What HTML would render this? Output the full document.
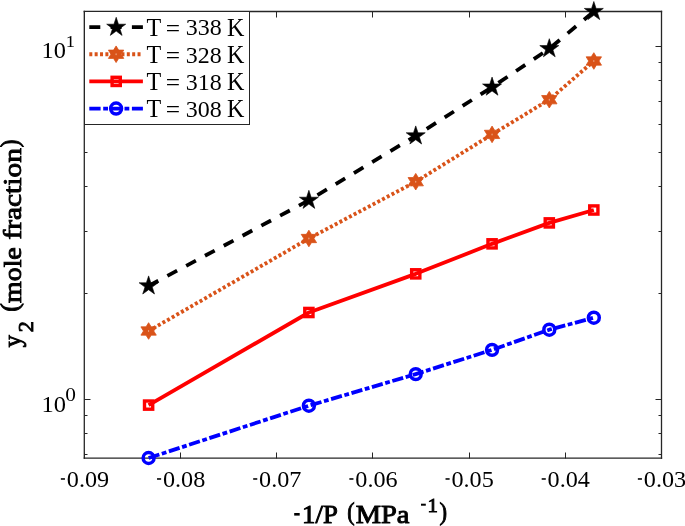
<!DOCTYPE html>
<html><head><meta charset="utf-8"><style>html,body{margin:0;padding:0;background:#fff;overflow:hidden}svg{display:block;will-change:transform}</style></head>
<body><svg width="685" height="526" viewBox="0 0 685 526"><rect x="0" y="0" width="685" height="526" fill="#fff"/>
<line x1="84.3" y1="10.85" x2="84.3" y2="458.85" stroke="#262626" stroke-width="1.3"/>
<line x1="661.5" y1="10.85" x2="661.5" y2="458.85" stroke="#262626" stroke-width="1.3"/>
<line x1="83.65" y1="11.5" x2="662.15" y2="11.5" stroke="#262626" stroke-width="1.3"/>
<line x1="83.65" y1="458.2" x2="662.15" y2="458.2" stroke="#262626" stroke-width="1.25"/>
<line x1="84.5" y1="458.5" x2="84.5" y2="452.5" stroke="#262626" stroke-width="1"/>
<line x1="84.5" y1="11.5" x2="84.5" y2="17.5" stroke="#262626" stroke-width="1"/>
<line x1="180.5" y1="458.5" x2="180.5" y2="452.5" stroke="#262626" stroke-width="1"/>
<line x1="180.5" y1="11.5" x2="180.5" y2="17.5" stroke="#262626" stroke-width="1"/>
<line x1="276.5" y1="458.5" x2="276.5" y2="452.5" stroke="#262626" stroke-width="1"/>
<line x1="276.5" y1="11.5" x2="276.5" y2="17.5" stroke="#262626" stroke-width="1"/>
<line x1="372.5" y1="458.5" x2="372.5" y2="452.5" stroke="#262626" stroke-width="1"/>
<line x1="372.5" y1="11.5" x2="372.5" y2="17.5" stroke="#262626" stroke-width="1"/>
<line x1="469.5" y1="458.5" x2="469.5" y2="452.5" stroke="#262626" stroke-width="1"/>
<line x1="469.5" y1="11.5" x2="469.5" y2="17.5" stroke="#262626" stroke-width="1"/>
<line x1="565.5" y1="458.5" x2="565.5" y2="452.5" stroke="#262626" stroke-width="1"/>
<line x1="565.5" y1="11.5" x2="565.5" y2="17.5" stroke="#262626" stroke-width="1"/>
<line x1="661.5" y1="458.5" x2="661.5" y2="452.5" stroke="#262626" stroke-width="1"/>
<line x1="661.5" y1="11.5" x2="661.5" y2="17.5" stroke="#262626" stroke-width="1"/>
<line x1="84.5" y1="399.5" x2="90.5" y2="399.5" stroke="#262626" stroke-width="1"/>
<line x1="661.5" y1="399.5" x2="655.5" y2="399.5" stroke="#262626" stroke-width="1"/>
<line x1="84.5" y1="46.5" x2="90.5" y2="46.5" stroke="#262626" stroke-width="1"/>
<line x1="661.5" y1="46.5" x2="655.5" y2="46.5" stroke="#262626" stroke-width="1"/>
<line x1="84.5" y1="454.5" x2="87.5" y2="454.5" stroke="#262626" stroke-width="1"/>
<line x1="661.5" y1="454.5" x2="658.5" y2="454.5" stroke="#262626" stroke-width="1"/>
<line x1="84.5" y1="433.5" x2="87.5" y2="433.5" stroke="#262626" stroke-width="1"/>
<line x1="661.5" y1="433.5" x2="658.5" y2="433.5" stroke="#262626" stroke-width="1"/>
<line x1="84.5" y1="415.5" x2="87.5" y2="415.5" stroke="#262626" stroke-width="1"/>
<line x1="661.5" y1="415.5" x2="658.5" y2="415.5" stroke="#262626" stroke-width="1"/>
<line x1="84.5" y1="293.5" x2="87.5" y2="293.5" stroke="#262626" stroke-width="1"/>
<line x1="661.5" y1="293.5" x2="658.5" y2="293.5" stroke="#262626" stroke-width="1"/>
<line x1="84.5" y1="231.5" x2="87.5" y2="231.5" stroke="#262626" stroke-width="1"/>
<line x1="661.5" y1="231.5" x2="658.5" y2="231.5" stroke="#262626" stroke-width="1"/>
<line x1="84.5" y1="186.5" x2="87.5" y2="186.5" stroke="#262626" stroke-width="1"/>
<line x1="661.5" y1="186.5" x2="658.5" y2="186.5" stroke="#262626" stroke-width="1"/>
<line x1="84.5" y1="152.5" x2="87.5" y2="152.5" stroke="#262626" stroke-width="1"/>
<line x1="661.5" y1="152.5" x2="658.5" y2="152.5" stroke="#262626" stroke-width="1"/>
<line x1="84.5" y1="124.5" x2="87.5" y2="124.5" stroke="#262626" stroke-width="1"/>
<line x1="661.5" y1="124.5" x2="658.5" y2="124.5" stroke="#262626" stroke-width="1"/>
<line x1="84.5" y1="101.5" x2="87.5" y2="101.5" stroke="#262626" stroke-width="1"/>
<line x1="661.5" y1="101.5" x2="658.5" y2="101.5" stroke="#262626" stroke-width="1"/>
<line x1="84.5" y1="80.5" x2="87.5" y2="80.5" stroke="#262626" stroke-width="1"/>
<line x1="661.5" y1="80.5" x2="658.5" y2="80.5" stroke="#262626" stroke-width="1"/>
<line x1="84.5" y1="62.5" x2="87.5" y2="62.5" stroke="#262626" stroke-width="1"/>
<line x1="661.5" y1="62.5" x2="658.5" y2="62.5" stroke="#262626" stroke-width="1"/>
<polyline points="148.61,458.00 308.89,405.70 415.74,374.10 492.06,349.85 549.31,329.70 593.83,317.70" fill="none" stroke="#0000FF" stroke-width="3.8" stroke-linejoin="round" stroke-dasharray="11.3 2.6 4.8 2.6" stroke-dashoffset="0"/>
<polyline points="148.61,405.10 308.89,312.50 415.74,273.85 492.06,243.85 549.31,222.90 593.83,210.00" fill="none" stroke="#FF0000" stroke-width="3.8" stroke-linejoin="round"/>
<polyline points="148.61,331.00 308.89,238.50 415.74,181.70 492.06,134.40 549.31,99.70 593.83,61.00" fill="none" stroke="#D95319" stroke-width="3.8" stroke-linejoin="round" stroke-dasharray="3 2.36" stroke-dashoffset="0"/>
<polyline points="148.61,285.90 308.89,200.30 415.74,135.90 492.06,87.10 549.31,48.70 593.83,11.50" fill="none" stroke="#000000" stroke-width="3.8" stroke-linejoin="round" stroke-dasharray="11 10.3" stroke-dashoffset="0"/>
<circle cx="148.61" cy="458.00" r="5.45" fill="none" stroke="#0000FF" stroke-width="3.5"/>
<circle cx="308.89" cy="405.70" r="5.45" fill="none" stroke="#0000FF" stroke-width="3.5"/>
<circle cx="415.74" cy="374.10" r="5.45" fill="none" stroke="#0000FF" stroke-width="3.5"/>
<circle cx="492.06" cy="349.85" r="5.45" fill="none" stroke="#0000FF" stroke-width="3.5"/>
<circle cx="549.31" cy="329.70" r="5.45" fill="none" stroke="#0000FF" stroke-width="3.5"/>
<circle cx="593.83" cy="317.70" r="5.45" fill="none" stroke="#0000FF" stroke-width="3.5"/>
<rect x="144.51" y="401.00" width="8.2" height="8.2" fill="none" stroke="#FF0000" stroke-width="3.4"/>
<rect x="304.79" y="308.40" width="8.2" height="8.2" fill="none" stroke="#FF0000" stroke-width="3.4"/>
<rect x="411.64" y="269.75" width="8.2" height="8.2" fill="none" stroke="#FF0000" stroke-width="3.4"/>
<rect x="487.96" y="239.75" width="8.2" height="8.2" fill="none" stroke="#FF0000" stroke-width="3.4"/>
<rect x="545.21" y="218.80" width="8.2" height="8.2" fill="none" stroke="#FF0000" stroke-width="3.4"/>
<rect x="589.73" y="205.90" width="8.2" height="8.2" fill="none" stroke="#FF0000" stroke-width="3.4"/>
<polygon points="148.61,322.70 151.17,326.85 156.30,326.85 153.74,331.00 156.30,335.15 151.17,335.15 148.61,339.30 146.05,335.15 140.92,335.15 143.48,331.00 140.92,326.85 146.05,326.85" fill="#D95319" stroke="#D95319" stroke-width="0.8"/><ellipse cx="148.61" cy="331.00" rx="0.6" ry="1.0" fill="#f3c2a8" opacity="0.8"/>
<polygon points="308.89,230.20 311.45,234.35 316.58,234.35 314.02,238.50 316.58,242.65 311.45,242.65 308.89,246.80 306.33,242.65 301.20,242.65 303.76,238.50 301.20,234.35 306.33,234.35" fill="#D95319" stroke="#D95319" stroke-width="0.8"/><ellipse cx="308.89" cy="238.50" rx="0.6" ry="1.0" fill="#f3c2a8" opacity="0.8"/>
<polygon points="415.74,173.40 418.30,177.55 423.43,177.55 420.87,181.70 423.43,185.85 418.30,185.85 415.74,190.00 413.18,185.85 408.05,185.85 410.61,181.70 408.05,177.55 413.18,177.55" fill="#D95319" stroke="#D95319" stroke-width="0.8"/><ellipse cx="415.74" cy="181.70" rx="0.6" ry="1.0" fill="#f3c2a8" opacity="0.8"/>
<polygon points="492.06,126.10 494.63,130.25 499.75,130.25 497.19,134.40 499.75,138.55 494.63,138.55 492.06,142.70 489.50,138.55 484.37,138.55 486.94,134.40 484.37,130.25 489.50,130.25" fill="#D95319" stroke="#D95319" stroke-width="0.8"/><ellipse cx="492.06" cy="134.40" rx="0.6" ry="1.0" fill="#f3c2a8" opacity="0.8"/>
<polygon points="549.31,91.40 551.87,95.55 557.00,95.55 554.43,99.70 557.00,103.85 551.87,103.85 549.31,108.00 546.74,103.85 541.61,103.85 544.18,99.70 541.61,95.55 546.74,95.55" fill="#D95319" stroke="#D95319" stroke-width="0.8"/><ellipse cx="549.31" cy="99.70" rx="0.6" ry="1.0" fill="#f3c2a8" opacity="0.8"/>
<polygon points="593.83,52.70 596.39,56.85 601.52,56.85 598.95,61.00 601.52,65.15 596.39,65.15 593.83,69.30 591.26,65.15 586.14,65.15 588.70,61.00 586.14,56.85 591.26,56.85" fill="#D95319" stroke="#D95319" stroke-width="0.8"/><ellipse cx="593.83" cy="61.00" rx="0.6" ry="1.0" fill="#f3c2a8" opacity="0.8"/>
<polygon points="148.61,275.90 150.86,282.81 158.12,282.81 152.24,287.08 154.49,293.99 148.61,289.72 142.73,293.99 144.98,287.08 139.10,282.81 146.37,282.81" fill="#000000" stroke="#000000" stroke-width="0.6" stroke-linejoin="miter"/>
<polygon points="308.89,190.30 311.13,197.21 318.40,197.21 312.52,201.48 314.77,208.39 308.89,204.12 303.01,208.39 305.26,201.48 299.38,197.21 306.64,197.21" fill="#000000" stroke="#000000" stroke-width="0.6" stroke-linejoin="miter"/>
<polygon points="415.74,125.90 417.99,132.81 425.25,132.81 419.37,137.08 421.62,143.99 415.74,139.72 409.86,143.99 412.11,137.08 406.23,132.81 413.50,132.81" fill="#000000" stroke="#000000" stroke-width="0.6" stroke-linejoin="miter"/>
<polygon points="492.06,77.10 494.31,84.01 501.57,84.01 495.70,88.28 497.94,95.19 492.06,90.92 486.19,95.19 488.43,88.28 482.55,84.01 489.82,84.01" fill="#000000" stroke="#000000" stroke-width="0.6" stroke-linejoin="miter"/>
<polygon points="549.31,38.70 551.55,45.61 558.82,45.61 552.94,49.88 555.18,56.79 549.31,52.52 543.43,56.79 545.67,49.88 539.79,45.61 547.06,45.61" fill="#000000" stroke="#000000" stroke-width="0.6" stroke-linejoin="miter"/>
<polygon points="593.83,1.50 596.07,8.41 603.34,8.41 597.46,12.68 599.71,19.59 593.83,15.32 587.95,19.59 590.19,12.68 584.32,8.41 591.58,8.41" fill="#000000" stroke="#000000" stroke-width="0.6" stroke-linejoin="miter"/>
<rect x="60.85" y="478.2" width="4.1" height="1.55" fill="#000"/>
<text x="66.80" y="487.25" font-family="Liberation Serif, serif" font-size="23" textLength="42.32" lengthAdjust="spacingAndGlyphs" fill="#000">0.09</text>
<rect x="157.02" y="478.2" width="4.1" height="1.55" fill="#000"/>
<text x="162.97" y="487.25" font-family="Liberation Serif, serif" font-size="23" textLength="42.32" lengthAdjust="spacingAndGlyphs" fill="#000">0.08</text>
<rect x="253.18" y="478.2" width="4.1" height="1.55" fill="#000"/>
<text x="259.13" y="487.25" font-family="Liberation Serif, serif" font-size="23" textLength="42.32" lengthAdjust="spacingAndGlyphs" fill="#000">0.07</text>
<rect x="349.35" y="478.2" width="4.1" height="1.55" fill="#000"/>
<text x="355.30" y="487.25" font-family="Liberation Serif, serif" font-size="23" textLength="42.32" lengthAdjust="spacingAndGlyphs" fill="#000">0.06</text>
<rect x="445.52" y="478.2" width="4.1" height="1.55" fill="#000"/>
<text x="451.47" y="487.25" font-family="Liberation Serif, serif" font-size="23" textLength="42.32" lengthAdjust="spacingAndGlyphs" fill="#000">0.05</text>
<rect x="541.68" y="478.2" width="4.1" height="1.55" fill="#000"/>
<text x="547.63" y="487.25" font-family="Liberation Serif, serif" font-size="23" textLength="42.32" lengthAdjust="spacingAndGlyphs" fill="#000">0.04</text>
<rect x="637.85" y="478.2" width="4.1" height="1.55" fill="#000"/>
<text x="643.80" y="487.25" font-family="Liberation Serif, serif" font-size="23" textLength="42.32" lengthAdjust="spacingAndGlyphs" fill="#000">0.03</text>
<text transform="translate(41.48,58.05) scale(1.0600,0.9871)" font-family="Liberation Serif, serif" font-size="23" fill="#000">10</text>
<text transform="translate(65.78,47.20) scale(1.0833,1.0133)" font-family="Liberation Serif, serif" font-size="17" fill="#000">1</text>
<text transform="translate(41.47,411.85) scale(1.0650,0.9806)" font-family="Liberation Serif, serif" font-size="23" fill="#000">10</text>
<text transform="translate(65.26,401.23) scale(1.2571,1.0783)" font-family="Liberation Serif, serif" font-size="17" fill="#000">0</text>
<rect x="294.2" y="513.0" width="5.5" height="2.6" fill="#000"/>
<text transform="translate(302.09,523.30) scale(1.0918,1.0000)" font-family="Liberation Serif, serif" font-size="24.5" stroke="#000" stroke-width="0.9" fill="#000">1/P</text>
<text transform="translate(347.14,520.30) scale(0.8828,1.0000)" font-family="Liberation Serif, serif" font-size="25" stroke="#000" stroke-width="0.9" fill="#000">(</text>
<text transform="translate(355.71,523.30) scale(1.1611,1.0000)" font-family="Liberation Serif, serif" font-size="24.5" stroke="#000" stroke-width="0.9" fill="#000">MPa</text>
<rect x="421" y="503.7" width="4.8" height="2.0" fill="#000"/>
<text transform="translate(427.40,511.71) scale(1.0375,0.9714)" font-family="Liberation Serif, serif" font-size="20" stroke="#000" stroke-width="0.9" fill="#000">1</text>
<text transform="translate(439.57,520.30) scale(0.9067,1.0000)" font-family="Liberation Serif, serif" font-size="25" stroke="#000" stroke-width="0.9" fill="#000">)</text>
<g transform="translate(21.1,347.6) rotate(-90)"><text transform="translate(0.24,0.00) scale(0.9692,1.0000)" font-family="Liberation Serif, serif" font-size="25" stroke="#000" stroke-width="0.9" fill="#000">y</text><text transform="translate(15.45,11.90) scale(1.1086,1.0000)" font-family="Liberation Serif, serif" font-size="20" stroke="#000" stroke-width="0.9" fill="#000">2</text><text transform="translate(35.93,-3.60) scale(1.0207,1.0000)" font-family="Liberation Serif, serif" font-size="25" stroke="#000" stroke-width="0.9" fill="#000">(</text><text transform="translate(44.70,0.00) scale(1.1131,1.0000)" font-family="Liberation Serif, serif" font-size="25" stroke="#000" stroke-width="0.9" fill="#000">mole</text><text transform="translate(108.01,0.00) scale(1.1768,1.0000)" font-family="Liberation Serif, serif" font-size="25" stroke="#000" stroke-width="0.9" fill="#000">fraction</text><text transform="translate(200.37,-3.60) scale(0.9200,1.0000)" font-family="Liberation Serif, serif" font-size="25" stroke="#000" stroke-width="0.9" fill="#000">)</text></g>
<rect x="84.5" y="11.5" width="165" height="113" fill="#fff" stroke="#262626" stroke-width="1"/>
<polyline points="89.30,27.10 142.90,27.10" fill="none" stroke="#000000" stroke-width="3.8" stroke-linejoin="round" stroke-dasharray="11 10.3" stroke-dashoffset="0"/>
<polygon points="116.20,17.30 118.45,24.21 125.71,24.21 119.83,28.48 122.08,35.39 116.20,31.12 110.32,35.39 112.57,28.48 106.69,24.21 113.95,24.21" fill="#000000" stroke="#000000" stroke-width="0.6" stroke-linejoin="miter"/>
<text transform="translate(146.48,35.85) scale(1.0491,1.0633)" font-family="Liberation Serif, serif" font-size="23" fill="#000">T</text>
<text transform="translate(165.82,36.87) scale(1.1048,1.1304)" font-family="Liberation Serif, serif" font-size="23" fill="#000">=</text>
<text transform="translate(185.86,35.40) scale(1.0431,0.9903)" font-family="Liberation Serif, serif" font-size="23" fill="#000">338</text>
<text transform="translate(227.12,35.80) scale(1.0452,1.0600)" font-family="Liberation Serif, serif" font-size="23" fill="#000">K</text>
<polyline points="89.30,54.25 142.90,54.25" fill="none" stroke="#D95319" stroke-width="3.8" stroke-linejoin="round" stroke-dasharray="3 2.36" stroke-dashoffset="0"/>
<polygon points="116.10,45.95 118.66,50.10 123.79,50.10 121.23,54.25 123.79,58.40 118.66,58.40 116.10,62.55 113.54,58.40 108.41,58.40 110.97,54.25 108.41,50.10 113.54,50.10" fill="#D95319" stroke="#D95319" stroke-width="0.8"/><ellipse cx="116.10" cy="54.25" rx="0.6" ry="1.0" fill="#f3c2a8" opacity="0.8"/>
<text transform="translate(146.48,63.00) scale(1.0491,1.0633)" font-family="Liberation Serif, serif" font-size="23" fill="#000">T</text>
<text transform="translate(165.82,64.02) scale(1.1048,1.1304)" font-family="Liberation Serif, serif" font-size="23" fill="#000">=</text>
<text transform="translate(185.86,62.55) scale(1.0431,0.9903)" font-family="Liberation Serif, serif" font-size="23" fill="#000">328</text>
<text transform="translate(227.12,62.95) scale(1.0452,1.0600)" font-family="Liberation Serif, serif" font-size="23" fill="#000">K</text>
<polyline points="89.30,81.40 142.90,81.40" fill="none" stroke="#FF0000" stroke-width="3.8" stroke-linejoin="round"/>
<rect x="112.10" y="77.30" width="8.2" height="8.2" fill="none" stroke="#FF0000" stroke-width="3.4"/>
<text transform="translate(146.48,90.15) scale(1.0491,1.0633)" font-family="Liberation Serif, serif" font-size="23" fill="#000">T</text>
<text transform="translate(165.82,91.17) scale(1.1048,1.1304)" font-family="Liberation Serif, serif" font-size="23" fill="#000">=</text>
<text transform="translate(185.86,89.70) scale(1.0431,0.9903)" font-family="Liberation Serif, serif" font-size="23" fill="#000">318</text>
<text transform="translate(227.12,90.10) scale(1.0452,1.0600)" font-family="Liberation Serif, serif" font-size="23" fill="#000">K</text>
<polyline points="89.30,108.55 142.90,108.55" fill="none" stroke="#0000FF" stroke-width="3.8" stroke-linejoin="round" stroke-dasharray="11.3 2.6 4.8 2.6" stroke-dashoffset="0"/>
<circle cx="116.10" cy="108.55" r="5.45" fill="none" stroke="#0000FF" stroke-width="3.5"/>
<text transform="translate(146.48,117.30) scale(1.0491,1.0633)" font-family="Liberation Serif, serif" font-size="23" fill="#000">T</text>
<text transform="translate(165.82,118.32) scale(1.1048,1.1304)" font-family="Liberation Serif, serif" font-size="23" fill="#000">=</text>
<text transform="translate(185.86,116.85) scale(1.0431,0.9903)" font-family="Liberation Serif, serif" font-size="23" fill="#000">308</text>
<text transform="translate(227.12,117.25) scale(1.0452,1.0600)" font-family="Liberation Serif, serif" font-size="23" fill="#000">K</text></svg></body></html>
